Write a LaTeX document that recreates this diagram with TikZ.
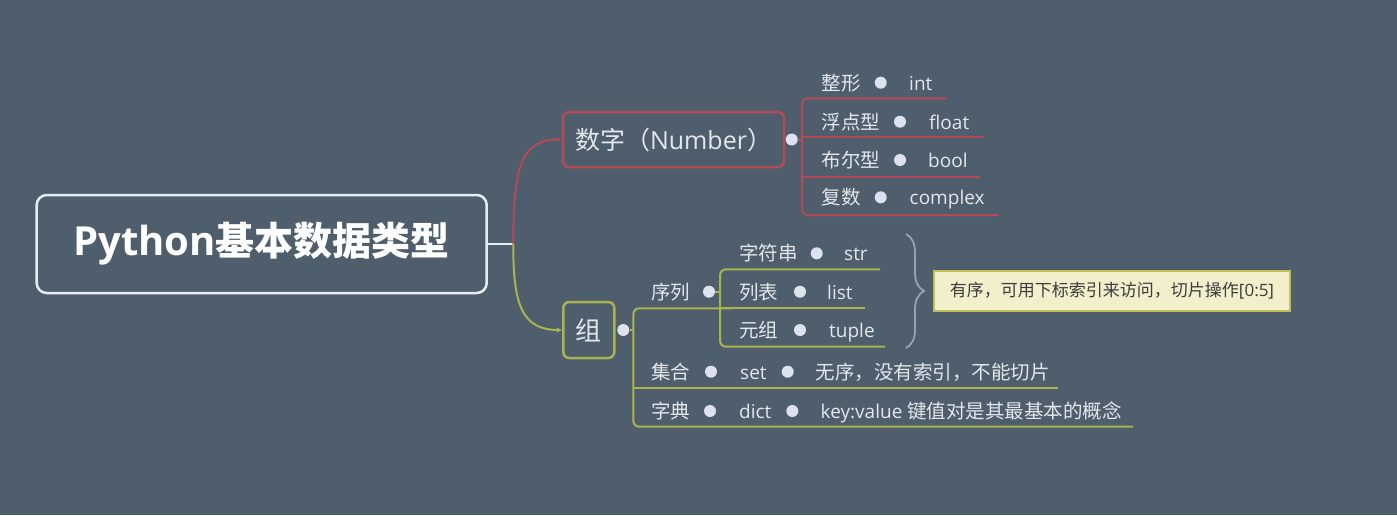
\documentclass[tikz,border=0pt]{standalone}
\usepackage{fontspec}
\setmainfont{Open Sans}
\newfontfamily\cjk{Noto Sans CJK SC}
\usetikzlibrary{arrows.meta,decorations.pathreplacing}
\definecolor{bg}{HTML}{4F5E6D}
\definecolor{numc}{HTML}{B24B57}
\definecolor{grpc}{HTML}{A9B44E}
\definecolor{rootc}{HTML}{E6ECF2}
\definecolor{txt}{HTML}{E3E7EB}
\definecolor{dotc}{HTML}{DCE3EE}
\definecolor{notefill}{HTML}{F2F0CC}
\definecolor{noteedge}{HTML}{C2BE5A}
\definecolor{notetxt}{HTML}{3C3C3C}
\definecolor{bracec}{HTML}{9AA2AC}
\begin{document}
\begin{tikzpicture}[x=1pt,y=-1pt,
  cj/.style={text=txt,font=\cjk\fontsize{19.5}{20}\selectfont,inner sep=0pt,anchor=base west},
  la/.style={text=txt,font=\fontsize{19}{20}\selectfont,inner sep=0pt,anchor=base west},
  dotn/.style={circle,fill=dotc,minimum size=12pt,inner sep=0pt},
  numline/.style={draw=numc,line width=2pt},
  grpline/.style={draw=grpc,line width=2pt},
  rootbox/.style={draw=rootc,line width=2.5pt,rounded corners=10pt,minimum width=450pt,minimum height=98pt,inner sep=0pt,text=white},
  numbox/.style={draw=numc,line width=2.5pt,rounded corners=6pt,minimum width=221pt,minimum height=55pt,inner sep=0pt,text=txt},
  grpbox/.style={draw=grpc,line width=2.5pt,rounded corners=6pt,minimum width=51pt,minimum height=56pt,inner sep=0pt,text=txt},
  notebox/.style={draw=noteedge,fill=notefill,line width=2pt,minimum width=356pt,minimum height=40pt,inner sep=0pt,text=notetxt},
  tipc/.style={-{Stealth[length=6pt,width=5pt]}}
]
\fill[bg] (0,0) rectangle (1397,515);
\useasboundingbox (0,0) rectangle (1397,515);

% root
\node[rootbox] (root) at (261.7,244) {\fontsize{40}{44}\selectfont\bfseries Python{\cjk\fontsize{39}{44}\selectfont\bfseries 基本数据类型}};
\coordinate (split) at (513.3,244);
\draw[draw=rootc,line width=2pt] (root.east) -- (split);

% number
\node[numbox] (num) at (673.5,139.5) {\cjk\fontsize{25}{28}\selectfont 数字（{\normalfont\fontsize{25}{28}\selectfont Number}）};
\node[grpbox] (grp) at (588.8,330) {\cjk\fontsize{26}{28}\selectfont 组};
\draw[numline,tipc] (split) .. controls (513,165) and (522,139.5) .. (num.west);
\draw[grpline,tipc] (split) .. controls (513,305) and (522,330) .. (grp.west);

% number children
\node[dotn] (numdot) at (791.7,139.5) {};
\coordinate (nv0) at (802,139.5);
\coordinate (nvTop) at (802,98.3);
\coordinate (nvB) at (802,215);
\coordinate (nv2) at (802,137.3);
\coordinate (nv3) at (802,176.7);
\coordinate (intEnd) at (946,98.3);
\coordinate (floatEnd) at (983,137.3);
\coordinate (boolEnd) at (980,176.7);
\coordinate (cplxEnd) at (998,215);
\draw[numline,rounded corners=6pt] (intEnd) -- (nvTop) -- (nvB) -- (cplxEnd);
\draw[numline] (nv2) -- (floatEnd);
\draw[numline] (nv3) -- (boolEnd);
\draw[numline] (numdot.east) -- (nv0);

\node[cj] (zx) at (821.5,90.1) {整形};
\node[dotn] (zxd) at (880.7,82.7) {};
\node[la] (int) at (909,90.1) {int};
\node[cj] (fd) at (821.5,129.1) {浮点型};
\node[dotn] (fdd) at (900,121.7) {};
\node[la] (float) at (929,129.1) {float};
\node[cj] (be) at (821.5,167.4) {布尔型};
\node[dotn] (bed) at (900,160) {};
\node[la] (bool) at (928,167.4) {bool};
\node[cj] (fs) at (821.5,204.7) {复数};
\node[dotn] (fsd) at (880.7,197.3) {};
\node[la] (complex) at (909.5,204.7) {complex};

% group children
\node[dotn] (gdot) at (623.3,330) {};
\coordinate (gv0) at (633.3,330);
\coordinate (gvTop) at (633.3,308.3);
\coordinate (gvB) at (633.3,426.7);
\coordinate (seqEnd) at (732,308.3);
\coordinate (gv3) at (633.3,388.3);
\coordinate (setEnd) at (1058,388.3);
\coordinate (dictEnd) at (1133,426.7);
\draw[grpline,rounded corners=6pt] (seqEnd) -- (gvTop) -- (gvB) -- (dictEnd);
\draw[grpline] (gv3) -- (setEnd);
\draw[grpline] (gdot.east) -- (gv0);

\node[cj] (xl) at (651,299.1) {序列};
\node[dotn] (xld) at (709,291.7) {};
\coordinate (sv0) at (720,291.7);
\coordinate (svTop) at (720,269.3);
\coordinate (svB) at (720,346.7);
\coordinate (sv2) at (720,308.3);
\coordinate (strEnd) at (880,269.3);
\coordinate (listEnd) at (865,308.3);
\coordinate (tupleEnd) at (885,346.7);
\draw[grpline,rounded corners=6pt] (strEnd) -- (svTop) -- (svB) -- (tupleEnd);
\draw[grpline] (sv2) -- (listEnd);
\draw[grpline] (xld.east) -- (sv0);

\node[cj] (zfc) at (739,260.7) {字符串};
\node[dotn] (zfcd) at (816.7,253.3) {};
\node[la] (str) at (844,260.7) {str};
\node[cj] (lb) at (739,299.1) {列表};
\node[dotn] (lbd) at (800,291.7) {};
\node[la] (list) at (827,299.1) {list};
\node[cj] (yz) at (739,337.4) {元组};
\node[dotn] (yzd) at (800,330) {};
\node[la] (tuple) at (829,337.4) {tuple};

\node[cj] (jh) at (651,379.1) {集合};
\node[dotn] (jhd) at (711,371.7) {};
\node[la] (set) at (740,379.1) {set};
\node[dotn] (setd) at (787.7,371.7) {};
\node[cj] (setnote) at (815.5,379.1) {无序，没有索引，不能切片};

\node[cj] (zd) at (651,418.4) {字典};
\node[dotn] (zdd) at (710,411) {};
\node[la] (dict) at (739,418.4) {dict};
\node[dotn] (dictd) at (792.3,411) {};
\node[la] (kv) at (820.5,418.4) {key:value {\cjk\fontsize{19.5}{20}\selectfont 键值对是其最基本的概念}};

% brace and note
\coordinate (brT) at (906,234);
\coordinate (brB) at (906,348);
\draw[bracec,line width=1.8pt,decorate,decoration={brace,amplitude=18pt}] (brT) -- (brB);
\node[notebox] (note) at (1112,291) {\cjk\fontsize{17}{20}\selectfont 有序，可用下标索引来访问，切片操作{\normalfont\fontsize{17}{20}\selectfont[0:5]}};
\end{tikzpicture}
\end{document}
